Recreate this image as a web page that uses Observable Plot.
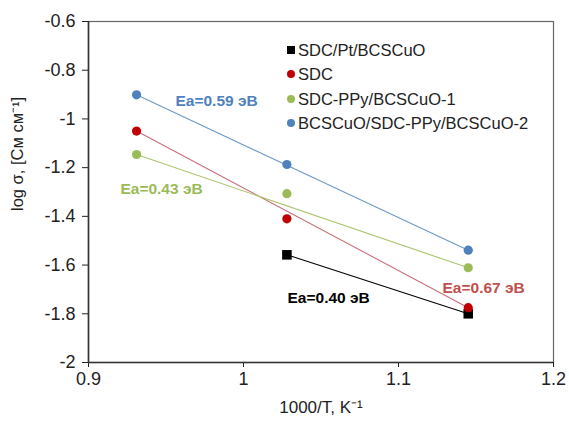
<!DOCTYPE html>
<html><head><meta charset="utf-8">
<script src="https://cdn.jsdelivr.net/npm/d3@7"></script>
<script src="https://cdn.jsdelivr.net/npm/@observablehq/plot@0.6"></script>
<style>
body{margin:0;background:#fff;font-family:"Liberation Sans",Arial,sans-serif;}
#wrap{position:relative;width:569px;height:423px;}
#legend{position:absolute;left:287px;top:38px;font-size:16.5px;color:#222;line-height:24.3px;}
#legend .row{display:flex;align-items:center;white-space:nowrap;}
#legend .m{display:inline-block;width:8px;height:8px;margin-right:3px;}
</style>
</head><body>
<div id="wrap"></div>
<script>
// inverse temperature, 1000/T (K^-1)
const invT = [0.931, 1.028, 1.145];
// log sigma per sample (null = not measured)
const sdcPt   = [null, -1.558, -1.800];
const sdc     = [-1.050, -1.410, -1.775];
const sdcPpy1 = [-1.146, -1.307, -1.611];
const bcscuo2 = [-0.901, -1.187, -1.539];
const seriesNames = ["SDC/Pt/BCSCuO", "SDC", "SDC-PPy/BCSCuO-1", "BCSCuO/SDC-PPy/BCSCuO-2"];
const seriesValues = [sdcPt, sdc, sdcPpy1, bcscuo2];
const dotColors  = ["#000000", "#c00000", "#9bbb59", "#4f81bd"];
const lineColors = ["#000000", "#c8707a", "#a9c46e", "#6f98c8"];
const symbols = ["square", "circle", "circle", "circle"];
// activation energy annotations
const eaLabels = ["Ea=0.40 эВ", "Ea=0.67 эВ", "Ea=0.43 эВ", "Ea=0.59 эВ"];
const eaX = [1.0284, 1.1284, 0.9206, 0.9561];
const eaY = [-1.737, -1.696, -1.286, -0.928];
const eaColors = ["#000000", "#c0504d", "#9bbb59", "#4f81bd"];
const xTicks = [0.9, 1, 1.1, 1.2];
const yTicks = [-2, -1.8, -1.6, -1.4, -1.2, -1, -0.8, -0.6];

const rows = [];
seriesNames.forEach((s, i) => seriesValues[i].forEach((v, j) => {
  if (v != null) rows.push({series: s, idx: i, x: invT[j], y: v});
}));
// straight line from first to last measured point of each series
const lineRows = [];
d3.group(rows, d => d.series).forEach(arr => { lineRows.push(arr[0], arr[arr.length - 1]); });
const ann = eaLabels.map((t, i) => ({t, x: eaX[i], y: eaY[i], c: eaColors[i]}));

const chart = Plot.plot({
  width: 569, height: 423,
  marginTop: 21, marginRight: 16, marginBottom: 61, marginLeft: 88,
  style: {fontFamily: '"Liberation Sans", Arial, sans-serif', background: "#fff"},
  x: {domain: [0.9, 1.2]},
  y: {domain: [-2, -0.6]},
  marks: [
    Plot.frame({stroke: "#666", strokeWidth: 1.2}),
    Plot.axisX({ticks: xTicks, tickFormat: d => String(d), tickSize: 5, tickPadding: 5, fontSize: 18, color: "#222", label: null}),
    Plot.axisY({ticks: yTicks, tickFormat: d => String(+d.toFixed(1)), tickSize: 6, tickPadding: 7, fontSize: 18, color: "#222", label: null}),
    Plot.ruleX([0.9], {stroke: "#333", strokeWidth: 1.6}),
    Plot.ruleY([-2], {stroke: "#333", strokeWidth: 1.6}),
    Plot.line(lineRows, {x: "x", y: "y", z: "series", stroke: d => lineColors[d.idx], strokeWidth: 1.1}),
    Plot.dot(rows.filter(d => d.idx === 0), {x: "x", y: "y", symbol: "square", fill: dotColors[0], r: 5.4, stroke: "none"}),
    Plot.dot(rows.filter(d => d.idx > 0), {x: "x", y: "y", symbol: "circle", fill: d => dotColors[d.idx], r: 4.6, stroke: "none"}),
    Plot.text(ann, {x: "x", y: "y", text: "t", fill: "c", textAnchor: "start", fontSize: 15.5, fontWeight: "bold"}),
    Plot.text(["1000/T, K⁻¹"], {frameAnchor: "bottom", dy: 50, fontSize: 17, fill: "#222"}),
    Plot.text(["log σ, [См см⁻¹]"], {frameAnchor: "left", dx: -71, dy: 19, rotate: -90, fontSize: 16.5, fill: "#222"})
  ],
  color: {type: "identity"}
});
const wrap = document.getElementById("wrap");
wrap.appendChild(chart);
const leg = document.createElement("div");
leg.id = "legend";
seriesNames.forEach((s, i) => {
  const r = document.createElement("div");
  r.className = "row";
  const m = document.createElement("span");
  m.className = "m";
  m.style.background = dotColors[i];
  if (symbols[i] === "circle") m.style.borderRadius = "50%";
  r.appendChild(m);
  r.appendChild(document.createTextNode(s));
  leg.appendChild(r);
});
wrap.appendChild(leg);
</script>
</body></html>
